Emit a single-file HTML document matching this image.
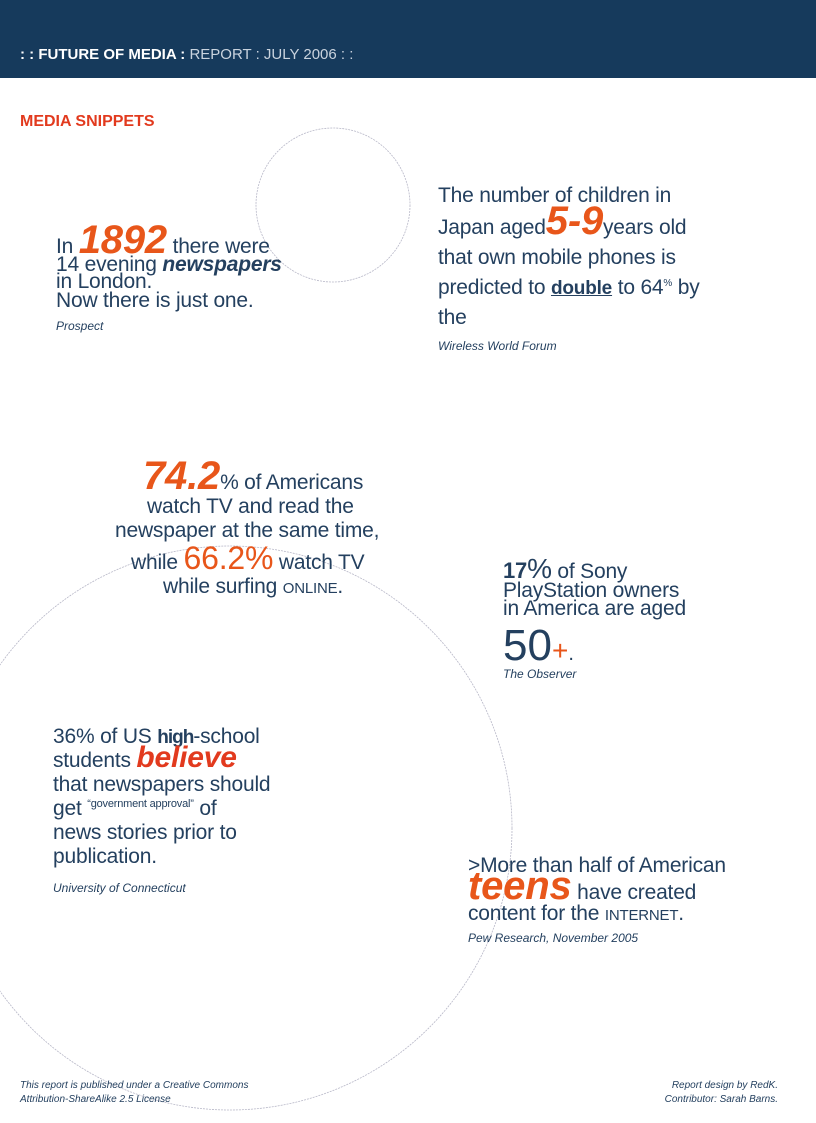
<!DOCTYPE html>
<html><head><meta charset="utf-8"><style>
body{margin:0;width:816px;height:1123px;position:relative;background:#fff;overflow:hidden;font-family:"Liberation Sans",sans-serif;color:#24405f}
.l{position:absolute;white-space:nowrap;line-height:1}
.l span,.l b,.l sup{line-height:0}
.t{font-size:21px;letter-spacing:-0.2px}
.o{color:#e8561a;font-weight:bold;font-style:italic}
.src{font-size:12px;font-style:italic}
.sc{font-size:15px}
</style></head><body>
<div style="position:absolute;left:0;top:0;width:816px;height:78px;background:#163a5c"></div>
<div class="l" style="left:20px;top:47px;font-size:15px;color:#fff"><b>: : FUTURE OF MEDIA :</b> <span style="color:#c9d3de;line-height:1">REPORT : JULY 2006 : :</span></div>
<div class="l" style="left:20px;top:114px;font-size:16px;font-weight:bold;color:#e23a1e">MEDIA SNIPPETS</div>
<svg style="position:absolute;left:0;top:0" width="816" height="1123">
<circle cx="333" cy="205" r="77" fill="none" stroke="#b8b8c8" stroke-width="0.8" stroke-dasharray="2 1"/>
<circle cx="230" cy="828" r="282" fill="none" stroke="#b8b8c8" stroke-width="0.8" stroke-dasharray="2 1"/>
</svg>

<div class="l t" style="left:56px;top:236px">In <span class="o" style="font-size:40px">1892</span> there were</div>
<div class="l t" style="left:56px;top:254px">14 evening <b><i>newspapers</i></b></div>
<div class="l t" style="left:56px;top:271px">in London.</div>
<div class="l t" style="left:56px;top:290px">Now there is just one.</div>
<div class="l src" style="left:56px;top:320px">Prospect</div>

<div class="l t" style="left:438px;top:185px">The number of children in</div>
<div class="l t" style="left:438px;top:217px">Japan aged<span class="o" style="font-size:40px">5-9</span>years old</div>
<div class="l t" style="left:438px;top:247px">that own mobile phones is</div>
<div class="l t" style="left:438px;top:277px">predicted to <b style="text-decoration:underline;font-size:19px">double</b> to 64<sup style="font-size:10px">%</sup> by</div>
<div class="l t" style="left:438px;top:307px">the</div>
<div class="l src" style="left:438px;top:340px">Wireless World Forum</div>

<div class="l t" style="left:143px;top:472px"><span class="o" style="font-size:40px">74.2</span>% of Americans</div>
<div class="l t" style="left:147px;top:496px">watch TV and read the</div>
<div class="l t" style="left:115px;top:520px">newspaper at the same time,</div>
<div class="l t" style="left:131px;top:552px">while <span style="color:#e8561a;font-size:32px">66.2%</span> watch TV</div>
<div class="l t" style="left:163px;top:576px">while surfing <span class="sc">ONLINE</span>.</div>

<div class="l t" style="left:503px;top:561px"><b style="font-size:22px">17</b><span style="font-size:28px">%</span> of Sony</div>
<div class="l t" style="left:503px;top:580px">PlayStation owners</div>
<div class="l t" style="left:503px;top:598px">in America are aged</div>
<div class="l" style="left:503px;top:624px;font-size:44px">50<span style="color:#e8561a;font-size:28px">+</span><span style="font-size:20px">.</span></div>
<div class="l src" style="left:503px;top:668px">The Observer</div>

<div class="l t" style="left:53px;top:726px">36% of US <b style="font-size:19px;letter-spacing:-1px">high</b>-school</div>
<div class="l t" style="left:53px;top:750px">students <span style="color:#e23a1e;font-weight:bold;font-style:italic;font-size:30px">believe</span></div>
<div class="l t" style="left:53px;top:774px">that newspapers should</div>
<div class="l t" style="left:53px;top:798px">get <sup style="font-size:11px">“government approval”</sup> of</div>
<div class="l t" style="left:53px;top:822px">news stories prior to</div>
<div class="l t" style="left:53px;top:846px">publication.</div>
<div class="l src" style="left:53px;top:882px">University of Connecticut</div>

<div class="l t" style="left:468px;top:855px">&gt;More than half of American</div>
<div class="l t" style="left:468px;top:882px"><span class="o" style="font-size:40px">teens</span> have created</div>
<div class="l t" style="left:468px;top:903px">content for the <span class="sc">INTERNET</span>.</div>
<div class="l src" style="left:468px;top:932px">Pew Research, November 2005</div>

<div class="l" style="left:20px;top:1081px;font-size:10px;font-style:italic">This report is published under a Creative Commons</div>
<div class="l" style="left:20px;top:1095px;font-size:10px;font-style:italic">Attribution-ShareAlike 2.5 License</div>
<div class="l" style="right:38px;top:1081px;font-size:10px;font-style:italic;text-align:right">Report design by RedK.</div>
<div class="l" style="right:38px;top:1095px;font-size:10px;font-style:italic;text-align:right">Contributor: Sarah Barns.</div>
</body></html>
